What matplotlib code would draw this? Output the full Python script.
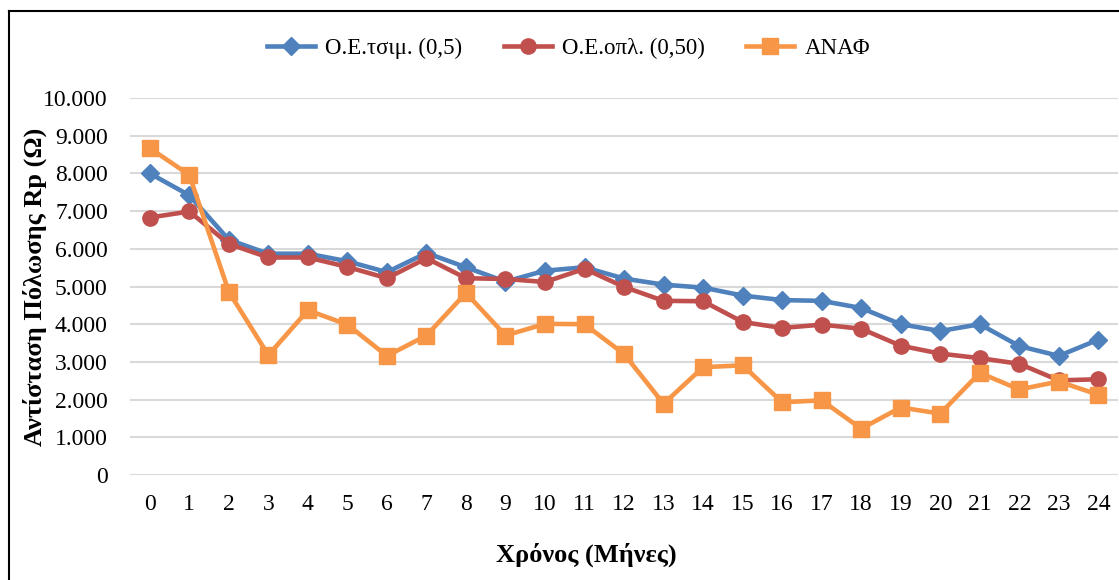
import matplotlib
matplotlib.use('Agg')
import matplotlib.pyplot as plt
from matplotlib.ticker import FuncFormatter

plt.rcParams['font.family'] = ['Liberation Serif', 'DejaVu Serif']

months = list(range(25))
oe_tsim = [8000, 7420, 6240, 5870, 5870, 5670, 5380, 5890, 5510, 5130, 5420, 5510,
           5210, 5050, 4970, 4760, 4640, 4620, 4430, 4000, 3820, 4000, 3420, 3160, 3590]
oe_opl = [6830, 6990, 6130, 5770, 5770, 5520, 5220, 5750, 5220, 5200, 5120, 5470,
          4990, 4620, 4610, 4060, 3900, 3990, 3880, 3430, 3220, 3100, 2950, 2510, 2540]
anaf = [8670, 7960, 4860, 3180, 4370, 3990, 3160, 3700, 4830, 3700, 4010, 4000,
        3210, 1890, 2860, 2910, 1930, 1980, 1230, 1790, 1630, 2710, 2270, 2480, 2130]

labels = ['Ο.Ε.τσιμ. (0,5)', 'Ο.Ε.οπλ. (0,50)', 'ΑΝΑΦ']
colors = ['#4F81BD', '#C0504D', '#F79646']
markers = ['D', 'o', 's']
sizes = [9, 11, 11]

fig = plt.figure(figsize=(11.19, 5.80), dpi=100)
ax = fig.add_axes([0.1162, 0.181, 0.883, 0.65])

for vals, lab, c, m, ms in zip([oe_tsim, oe_opl, anaf], labels, colors, markers, sizes):
    ax.plot(months, vals, color=c, lw=3.3, marker=m, markersize=ms, label=lab)

ax.set_xlim(-0.5, 24.5)
ax.set_ylim(0, 10000)
ax.set_yticks(range(0, 10001, 1000))
ax.yaxis.set_major_formatter(FuncFormatter(lambda v, p: f'{int(v):,}'.replace(',', '.')))
ax.set_xticks(months)
ax.grid(axis='y', color='#D9D9D9', lw=1.5)
ax.set_axisbelow(True)
for s in ax.spines.values():
    s.set_visible(False)
ax.tick_params(axis='both', length=0, labelsize=17)
ax.tick_params(axis='y', pad=16)
ax.tick_params(axis='x', pad=14)

ax.set_ylabel('Αντίσταση Πόλωσης Rp (Ω)', fontsize=19, fontweight='bold', labelpad=-3)
ax.set_xlabel('Χρόνος (Μήνες)', fontsize=19, fontweight='bold')
ax.xaxis.set_label_coords(0.4615, -0.178)

fig.legend(loc='center', bbox_to_anchor=(0.508, 0.917), ncol=3, frameon=False,
           fontsize=16.5, handlelength=2.1, columnspacing=1.8, handletextpad=0.45)

# chart border (left and top visible)
fig.add_artist(plt.Line2D([9 / 1119, 9 / 1119], [0, 1 - 11 / 580], color='black', lw=1.5))
fig.add_artist(plt.Line2D([9 / 1119, 1], [1 - 11 / 580, 1 - 11 / 580], color='black', lw=1.5))

fig.savefig('out.png', dpi=100)
